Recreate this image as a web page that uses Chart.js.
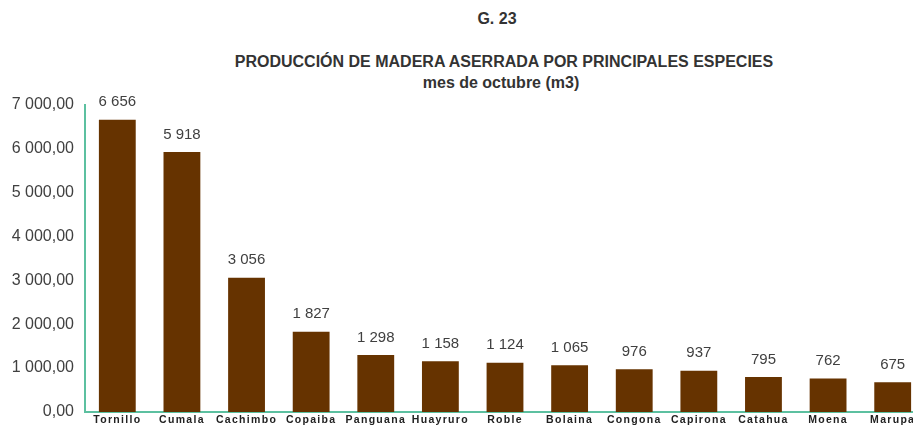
<!DOCTYPE html>
<html>
<head>
<meta charset="utf-8">
<script src="https://cdn.jsdelivr.net/npm/chart.js@4.4.1/dist/chart.umd.min.js"></script>
<style>
  html, body { margin:0; padding:0; background:#fff; width:913px; height:425px; overflow:hidden; }
  body { position:relative; font-family:"Liberation Sans", Arial, sans-serif; color:#333; }
  .t { position:absolute; left:0; width:1000px; text-align:center; font-weight:bold; white-space:nowrap; line-height:18px; }
  #g  { top:10px; font-size:16px; left:-3px; }
  #t1 { top:53px; font-size:16px; left:4px; }
  #t2 { top:74px; font-size:16px; left:1px; }
  #wrap { position:absolute; left:0; top:84px; width:925px; height:351px; }
</style>
</head>
<body>
<div class="t" id="g">G. 23</div>
<div class="t" id="t1">PRODUCCIÓN DE MADERA ASERRADA POR PRINCIPALES ESPECIES</div>
<div class="t" id="t2">mes de octubre (m3)</div>
<div id="wrap"><canvas id="c"></canvas></div>
<script>
/* ---------- data ---------- */
const especies = ["Tornillo","Cumala","Cachimbo","Copaiba","Panguana","Huayruro","Roble","Bolaina","Congona","Capirona","Catahua","Moena","Marupa"];
const volumen  = [6656, 5918, 3056, 1827, 1298, 1158, 1124, 1065, 976, 937, 795, 762, 675];
const yTicks   = [0, 1000, 2000, 3000, 4000, 5000, 6000, 7000];

const BAR  = "#663300";
const AXIS = "#5cc0a0";
const TXT  = "#404040";

// "6 656" / "7 000,00"
function miles(n){ return String(Math.round(n)).replace(/\B(?=(\d{3})+(?!\d))/g, " "); }
function dec2(n){ return miles(Math.floor(n)) + "," + n.toFixed(2).split(".")[1]; }

/* ---------- value labels on top of bars ---------- */
const valueLabels = {
  id:"valueLabels",
  afterDatasetsDraw(c){
    const g = c.ctx;
    const ds = c.data.datasets[0];
    g.save();
    g.font = "15px 'Liberation Sans', Arial, sans-serif";
    g.fillStyle = TXT;
    g.textAlign = "center";
    g.textBaseline = "bottom";
    c.getDatasetMeta(0).data.forEach((bar,i)=>{
      g.fillText(miles(ds.data[i]), bar.x, bar.y - 10);
    });
    g.restore();
  }
};

// x labels are letter-spaced in the original
const spacedX = {
  id:"spacedX",
  beforeDraw(c){
    const sx = c.scales.x;
    if (sx.__spaced) return;
    const orig = sx.drawLabels.bind(sx);
    sx.drawLabels = function(area){
      const g = c.ctx;
      g.save();
      g.letterSpacing = "1.3px";
      orig(area);
      g.restore();
    };
    sx.__spaced = true;
  }
};

new Chart(document.getElementById("c"), {
  type:"bar",
  data:{
    labels: especies,
    datasets:[{
      data: volumen,
      backgroundColor: BAR,
      borderWidth: 0,
      barPercentage: 0.57,
      categoryPercentage: 1
    }]
  },
  options:{
    responsive:true,
    maintainAspectRatio:false,
    animation:false,
    layout:{ padding:{ top:8, right:0, left:0, bottom:0 } },
    plugins:{ legend:{ display:false }, tooltip:{ enabled:false }, title:{ display:false } },
    scales:{
      x:{
        grid:{ display:false, drawTicks:false },
        border:{ display:true, color:AXIS, width:2 },
        ticks:{
          color:"#222",
          padding:2,
          maxRotation:0,
          autoSkip:false,
          font:{ family:"'Liberation Sans', Arial, sans-serif", size:10.5, weight:"bold" }
        },
        afterFit(s){ s.height = 23; }
      },
      y:{
        min:0, max:7000,
        afterBuildTicks(s){ s.ticks = yTicks.map(v=>({ value:v })); },
        grid:{ display:false, drawTicks:false },
        border:{ display:true, color:AXIS, width:2 },
        ticks:{
          color:TXT,
          padding:11,
          font:{ family:"'Liberation Sans', Arial, sans-serif", size:16 },
          callback: v => dec2(v)
        },
        afterFit(s){ s.width = 85; }
      }
    }
  },
  plugins:[valueLabels, spacedX]
});
</script>
</body>
</html>
